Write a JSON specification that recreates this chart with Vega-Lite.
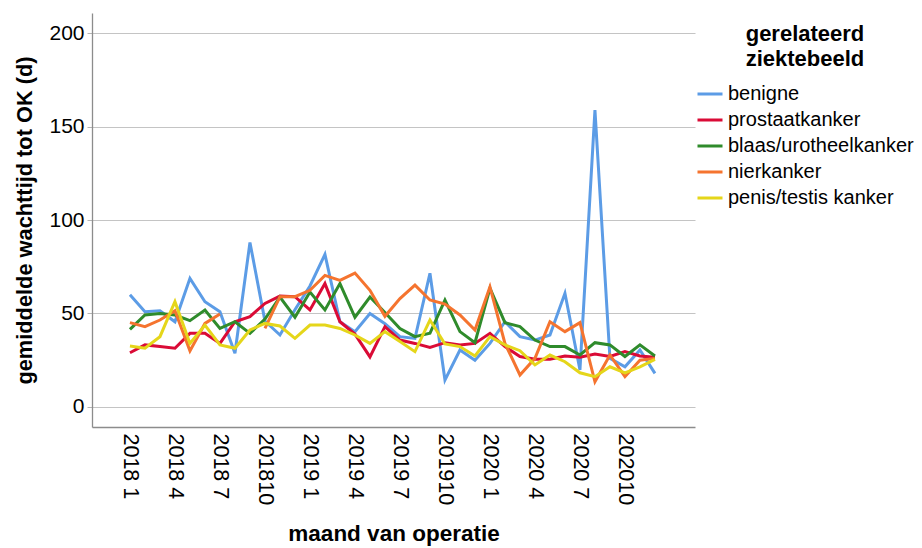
{
  "$schema": "https://vega.github.io/schema/vega-lite/v6.json",
  "width": 603,
  "height": 414,
  "autosize": {"type": "none"},
  "padding": {"left": 92, "top": 13, "right": 227, "bottom": 121},
  "background": "white",
  "config": {"font": "Liberation Sans", "view": {"stroke": null}},
  "data": {"values": [
    {"nr": 0, "maand": "2018 1", "benigne": 60, "prostaatkanker": 29, "blaas/urotheelkanker": 41.5, "nierkanker": 45.1, "penis/testis kanker": 32.6},
    {"nr": 1, "maand": "2018 2", "benigne": 51, "prostaatkanker": 33.2, "blaas/urotheelkanker": 49.2, "nierkanker": 43, "penis/testis kanker": 31.4},
    {"nr": 2, "maand": "2018 3", "benigne": 51.5, "prostaatkanker": 32.3, "blaas/urotheelkanker": 50, "nierkanker": 46.5, "penis/testis kanker": 37.6},
    {"nr": 3, "maand": "2018 4", "benigne": 45.6, "prostaatkanker": 31.4, "blaas/urotheelkanker": 49.2, "nierkanker": 51.5, "penis/testis kanker": 56.3},
    {"nr": 4, "maand": "2018 5", "benigne": 68.8, "prostaatkanker": 39.4, "blaas/urotheelkanker": 46.2, "nierkanker": 30, "penis/testis kanker": 34},
    {"nr": 5, "maand": "2018 6", "benigne": 56.3, "prostaatkanker": 39.4, "blaas/urotheelkanker": 51.9, "nierkanker": 44.7, "penis/testis kanker": 43.8},
    {"nr": 6, "maand": "2018 7", "benigne": 51, "prostaatkanker": 34, "blaas/urotheelkanker": 42, "nierkanker": 49.7, "penis/testis kanker": 33.2},
    {"nr": 7, "maand": "2018 8", "benigne": 28.7, "prostaatkanker": 45.6, "blaas/urotheelkanker": 45.6, "nierkanker": null, "penis/testis kanker": 31.4},
    {"nr": 8, "maand": "2018 9", "benigne": 88, "prostaatkanker": 48.3, "blaas/urotheelkanker": 39.4, "nierkanker": null, "penis/testis kanker": 41.2},
    {"nr": 9, "maand": "201810", "benigne": 46, "prostaatkanker": 55.4, "blaas/urotheelkanker": 47, "nierkanker": 42, "penis/testis kanker": 44.7},
    {"nr": 10, "maand": "201811", "benigne": 38.5, "prostaatkanker": 59.3, "blaas/urotheelkanker": 58.8, "nierkanker": 59, "penis/testis kanker": 43.3},
    {"nr": 11, "maand": "201812", "benigne": 52, "prostaatkanker": 59, "blaas/urotheelkanker": 48, "nierkanker": 59, "penis/testis kanker": 36.7},
    {"nr": 12, "maand": "2019 1", "benigne": 64.7, "prostaatkanker": 51.9, "blaas/urotheelkanker": 61.5, "nierkanker": 62.4, "penis/testis kanker": 43.8},
    {"nr": 13, "maand": "2019 2", "benigne": 81.6, "prostaatkanker": 66, "blaas/urotheelkanker": 51.9, "nierkanker": 70.4, "penis/testis kanker": 43.8},
    {"nr": 14, "maand": "2019 3", "benigne": 45.6, "prostaatkanker": 45.6, "blaas/urotheelkanker": 66, "nierkanker": 67.7, "penis/testis kanker": 42},
    {"nr": 15, "maand": "2019 4", "benigne": 40.3, "prostaatkanker": 39, "blaas/urotheelkanker": 48, "nierkanker": 71.6, "penis/testis kanker": 38.5},
    {"nr": 16, "maand": "2019 5", "benigne": 50, "prostaatkanker": 26.8, "blaas/urotheelkanker": 58.8, "nierkanker": 62.4, "penis/testis kanker": 34},
    {"nr": 17, "maand": "2019 6", "benigne": 44.5, "prostaatkanker": 43, "blaas/urotheelkanker": 50.5, "nierkanker": 48.5, "penis/testis kanker": 40.3},
    {"nr": 18, "maand": "2019 7", "benigne": 37.6, "prostaatkanker": 35.8, "blaas/urotheelkanker": 42, "nierkanker": 58, "penis/testis kanker": 35},
    {"nr": 19, "maand": "2019 8", "benigne": 36.7, "prostaatkanker": 34, "blaas/urotheelkanker": 37.6, "nierkanker": 65.2, "penis/testis kanker": 29.6},
    {"nr": 20, "maand": "2019 9", "benigne": 71.5, "prostaatkanker": 31.9, "blaas/urotheelkanker": 39.4, "nierkanker": 57.2, "penis/testis kanker": 46.5},
    {"nr": 21, "maand": "201910", "benigne": 14.4, "prostaatkanker": 34.4, "blaas/urotheelkanker": 57.2, "nierkanker": 55, "penis/testis kanker": 33.7},
    {"nr": 22, "maand": "201911", "benigne": 30.5, "prostaatkanker": 33.2, "blaas/urotheelkanker": 40.3, "nierkanker": 49.2, "penis/testis kanker": 32.3},
    {"nr": 23, "maand": "201912", "benigne": 25, "prostaatkanker": 34, "blaas/urotheelkanker": 34.4, "nierkanker": 41.2, "penis/testis kanker": 27.3},
    {"nr": 24, "maand": "2020 1", "benigne": 34, "prostaatkanker": 39.4, "blaas/urotheelkanker": 63.5, "nierkanker": 64.3, "penis/testis kanker": 37.6},
    {"nr": 25, "maand": "2020 2", "benigne": 45.6, "prostaatkanker": 32.3, "blaas/urotheelkanker": 45.1, "nierkanker": 34, "penis/testis kanker": 33.2},
    {"nr": 26, "maand": "2020 3", "benigne": 37.6, "prostaatkanker": 27, "blaas/urotheelkanker": 43, "nierkanker": 17.1, "penis/testis kanker": 30.1},
    {"nr": 27, "maand": "2020 4", "benigne": 35.8, "prostaatkanker": 25.5, "blaas/urotheelkanker": 35.8, "nierkanker": 26, "penis/testis kanker": 22.5},
    {"nr": 28, "maand": "2020 5", "benigne": 38.5, "prostaatkanker": 25.5, "blaas/urotheelkanker": 32.3, "nierkanker": 45.6, "penis/testis kanker": 27.8},
    {"nr": 29, "maand": "2020 6", "benigne": 60.8, "prostaatkanker": 27.3, "blaas/urotheelkanker": 32.3, "nierkanker": 40.3, "penis/testis kanker": 24.2},
    {"nr": 30, "maand": "2020 7", "benigne": 19.8, "prostaatkanker": 26.6, "blaas/urotheelkanker": 27.8, "nierkanker": 45.1, "penis/testis kanker": 18.3},
    {"nr": 31, "maand": "2020 8", "benigne": 158.8, "prostaatkanker": 28.3, "blaas/urotheelkanker": 34.4, "nierkanker": 13.5, "penis/testis kanker": 16.2},
    {"nr": 32, "maand": "2020 9", "benigne": 26, "prostaatkanker": 27, "blaas/urotheelkanker": 33.2, "nierkanker": 27.8, "penis/testis kanker": 21.5},
    {"nr": 33, "maand": "202010", "benigne": 21.5, "prostaatkanker": 29.6, "blaas/urotheelkanker": 27, "nierkanker": 16.2, "penis/testis kanker": 18.3},
    {"nr": 34, "maand": "202011", "benigne": 30.5, "prostaatkanker": 27.3, "blaas/urotheelkanker": 33.2, "nierkanker": 25, "penis/testis kanker": 21.5},
    {"nr": 35, "maand": "202012", "benigne": 18, "prostaatkanker": 26.6, "blaas/urotheelkanker": 27.3, "nierkanker": 26, "penis/testis kanker": 25.5}
  ]},
  "transform": [
    {"fold": ["benigne", "prostaatkanker", "blaas/urotheelkanker", "nierkanker", "penis/testis kanker"], "as": ["ziektebeeld", "wachttijd"]}
  ],
  "mark": {"type": "line", "strokeWidth": 3},
  "encoding": {
    "x": {
      "field": "nr",
      "type": "quantitative",
      "scale": {"domain": [-2.53, 37.67], "nice": false, "zero": false},
      "title": "maand van operatie",
      "axis": {
        "values": [0, 3, 6, 9, 12, 15, 18, 21, 24, 27, 30, 33],
        "labelExpr": "['2018 1','2018 4','2018 7','201810','2019 1','2019 4','2019 7','201910','2020 1','2020 4','2020 7','202010'][round(datum.value / 3)]",
        "labelAngle": 90,
        "labelFlush": false,
        "labelOverlap": false,
        "labelFontSize": 21.5,
        "labelColor": "#000000",
        "labelPadding": 6,
        "ticks": false,
        "grid": false,
        "domainColor": "#8c8c8c",
        "domainWidth": 1.3,
        "titleFontSize": 22.5,
        "titleFontWeight": "bold",
        "titleColor": "#000000",
        "titlePadding": 18
      }
    },
    "y": {
      "field": "wachttijd",
      "type": "quantitative",
      "scale": {"domain": [-10.7, 210.7], "nice": false, "zero": false},
      "title": "gemiddelde wachttijd tot OK (d)",
      "axis": {
        "values": [0, 50, 100, 150, 200],
        "labelFontSize": 21,
        "labelColor": "#000000",
        "labelPadding": 3,
        "tickSize": 5,
        "tickColor": "#b4b4b4",
        "grid": true,
        "gridColor": "#c4c4c4",
        "gridWidth": 1.2,
        "domainColor": "#8c8c8c",
        "domainWidth": 1.3,
        "titleFontSize": 21.8,
        "titleFontWeight": "bold",
        "titleColor": "#000000",
        "titlePadding": 12
      }
    },
    "color": {
      "field": "ziektebeeld",
      "type": "nominal",
      "title": ["gerelateerd", "ziektebeeld"],
      "scale": {
        "domain": ["benigne", "prostaatkanker", "blaas/urotheelkanker", "nierkanker", "penis/testis kanker"],
        "range": ["#5c9ce6", "#da0b36", "#2f8b2b", "#f5742f", "#e5d61a"]
      },
      "legend": {
        "orient": "none",
        "legendX": 604,
        "legendY": 11,
        "symbolType": "stroke",
        "symbolSize": 625,
        "symbolStrokeWidth": 3,
        "labelFontSize": 20,
        "labelLimit": 400,
        "labelColor": "#000000",
        "labelOffset": 4,
        "clipHeight": 26,
        "rowPadding": 0,
        "titleFontSize": 22,
        "titleLimit": 400,
        "titleFontWeight": "bold",
        "titleColor": "#000000",
        "titleAlign": "center",
        "titleAnchor": "middle",
        "titleLineHeight": 25,
        "titlePadding": 10
      }
    }
  }
}
